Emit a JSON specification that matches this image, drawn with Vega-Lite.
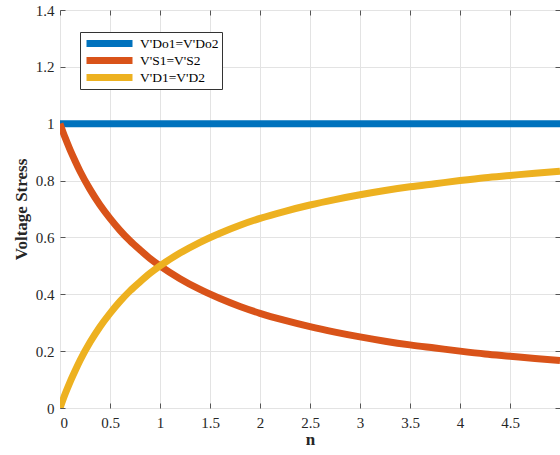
{
  "$schema": "https://vega.github.io/schema/vega-lite/v6.json",
  "width": 500,
  "height": 398,
  "autosize": {"type": "none"},
  "padding": {"left": 60, "top": 10, "right": 0, "bottom": 47},
  "background": "white",
  "config": {
    "view": {"stroke": "#7a7a7a", "strokeWidth": 1},
    "font": "Liberation Serif",
    "axis": {
      "labelFont": "Liberation Serif",
      "labelFontSize": 15,
      "labelColor": "#262626",
      "titleFont": "Liberation Serif",
      "titleFontSize": 17,
      "titleFontWeight": "bold",
      "titleColor": "#262626",
      "domain": false,
      "gridColor": "#e3e3e3",
      "gridWidth": 1,
      "tickColor": "#555555",
      "tickSize": -5
    }
  },
  "data": {
    "values": [
      {"n": 0, "v": 1, "s": "V'Do1=V'Do2"},
      {"n": 5, "v": 1, "s": "V'Do1=V'Do2"},
      {"n": 0, "v": 1, "s": "V'S1=V'S2"},
      {"n": 0.05, "v": 0.952, "s": "V'S1=V'S2"},
      {"n": 0.1, "v": 0.909, "s": "V'S1=V'S2"},
      {"n": 0.15, "v": 0.870, "s": "V'S1=V'S2"},
      {"n": 0.2, "v": 0.833, "s": "V'S1=V'S2"},
      {"n": 0.3, "v": 0.769, "s": "V'S1=V'S2"},
      {"n": 0.4, "v": 0.714, "s": "V'S1=V'S2"},
      {"n": 0.5, "v": 0.667, "s": "V'S1=V'S2"},
      {"n": 0.6, "v": 0.625, "s": "V'S1=V'S2"},
      {"n": 0.7, "v": 0.588, "s": "V'S1=V'S2"},
      {"n": 0.8, "v": 0.556, "s": "V'S1=V'S2"},
      {"n": 0.9, "v": 0.526, "s": "V'S1=V'S2"},
      {"n": 1.0, "v": 0.5, "s": "V'S1=V'S2"},
      {"n": 1.2, "v": 0.455, "s": "V'S1=V'S2"},
      {"n": 1.4, "v": 0.417, "s": "V'S1=V'S2"},
      {"n": 1.6, "v": 0.385, "s": "V'S1=V'S2"},
      {"n": 1.8, "v": 0.357, "s": "V'S1=V'S2"},
      {"n": 2.0, "v": 0.333, "s": "V'S1=V'S2"},
      {"n": 2.25, "v": 0.308, "s": "V'S1=V'S2"},
      {"n": 2.5, "v": 0.286, "s": "V'S1=V'S2"},
      {"n": 2.75, "v": 0.267, "s": "V'S1=V'S2"},
      {"n": 3.0, "v": 0.25, "s": "V'S1=V'S2"},
      {"n": 3.25, "v": 0.235, "s": "V'S1=V'S2"},
      {"n": 3.5, "v": 0.222, "s": "V'S1=V'S2"},
      {"n": 3.75, "v": 0.211, "s": "V'S1=V'S2"},
      {"n": 4.0, "v": 0.2, "s": "V'S1=V'S2"},
      {"n": 4.25, "v": 0.190, "s": "V'S1=V'S2"},
      {"n": 4.5, "v": 0.182, "s": "V'S1=V'S2"},
      {"n": 4.75, "v": 0.174, "s": "V'S1=V'S2"},
      {"n": 5.0, "v": 0.167, "s": "V'S1=V'S2"},
      {"n": 0, "v": 0, "s": "V'D1=V'D2"},
      {"n": 0.05, "v": 0.048, "s": "V'D1=V'D2"},
      {"n": 0.1, "v": 0.091, "s": "V'D1=V'D2"},
      {"n": 0.15, "v": 0.130, "s": "V'D1=V'D2"},
      {"n": 0.2, "v": 0.167, "s": "V'D1=V'D2"},
      {"n": 0.3, "v": 0.231, "s": "V'D1=V'D2"},
      {"n": 0.4, "v": 0.286, "s": "V'D1=V'D2"},
      {"n": 0.5, "v": 0.333, "s": "V'D1=V'D2"},
      {"n": 0.6, "v": 0.375, "s": "V'D1=V'D2"},
      {"n": 0.7, "v": 0.412, "s": "V'D1=V'D2"},
      {"n": 0.8, "v": 0.444, "s": "V'D1=V'D2"},
      {"n": 0.9, "v": 0.474, "s": "V'D1=V'D2"},
      {"n": 1.0, "v": 0.5, "s": "V'D1=V'D2"},
      {"n": 1.2, "v": 0.545, "s": "V'D1=V'D2"},
      {"n": 1.4, "v": 0.583, "s": "V'D1=V'D2"},
      {"n": 1.6, "v": 0.615, "s": "V'D1=V'D2"},
      {"n": 1.8, "v": 0.643, "s": "V'D1=V'D2"},
      {"n": 2.0, "v": 0.667, "s": "V'D1=V'D2"},
      {"n": 2.25, "v": 0.692, "s": "V'D1=V'D2"},
      {"n": 2.5, "v": 0.714, "s": "V'D1=V'D2"},
      {"n": 2.75, "v": 0.733, "s": "V'D1=V'D2"},
      {"n": 3.0, "v": 0.75, "s": "V'D1=V'D2"},
      {"n": 3.25, "v": 0.765, "s": "V'D1=V'D2"},
      {"n": 3.5, "v": 0.778, "s": "V'D1=V'D2"},
      {"n": 3.75, "v": 0.789, "s": "V'D1=V'D2"},
      {"n": 4.0, "v": 0.8, "s": "V'D1=V'D2"},
      {"n": 4.25, "v": 0.810, "s": "V'D1=V'D2"},
      {"n": 4.5, "v": 0.818, "s": "V'D1=V'D2"},
      {"n": 4.75, "v": 0.826, "s": "V'D1=V'D2"},
      {"n": 5.0, "v": 0.833, "s": "V'D1=V'D2"}
    ]
  },
  "layer": [
    {
      "mark": {"type": "line", "strokeWidth": 7, "interpolate": "monotone", "clip": true, "strokeCap": "butt"},
      "encoding": {
        "x": {
          "field": "n",
          "type": "quantitative",
          "scale": {"domain": [0, 5], "nice": false},
          "axis": {
            "title": "n",
            "values": [0, 0.5, 1, 1.5, 2, 2.5, 3, 3.5, 4, 4.5],
            "format": "~g",
            "labelPadding": 12,
            "titlePadding": 1
          }
        },
        "y": {
          "field": "v",
          "type": "quantitative",
          "scale": {"domain": [0, 1.4], "nice": false},
          "axis": {
            "title": "Voltage Stress",
            "values": [0, 0.2, 0.4, 0.6, 0.8, 1, 1.2, 1.4],
            "format": "~g",
            "labelPadding": 11,
            "titlePadding": 5
          }
        },
        "color": {
          "field": "s",
          "type": "nominal",
          "sort": ["V'Do1=V'Do2", "V'S1=V'S2", "V'D1=V'D2"],
          "scale": {"domain": ["V'Do1=V'Do2", "V'S1=V'S2", "V'D1=V'D2"], "range": ["#0072BD", "#D95319", "#EDB120"]},
          "legend": {
            "title": null,
            "orient": "none",
            "legendX": 20,
            "legendY": 22,
            "symbolType": "stroke",
            "symbolSize": 2116,
            "symbolStrokeWidth": 7,
            "clipHeight": 17,
            "labelFont": "Liberation Serif",
            "labelFontSize": 13.5,
            "labelColor": "#000000",
            "labelOffset": 4,
            "rowPadding": 0,
            "padding": 3,
            "fillColor": "white",
            "strokeColor": "#333333"
          }
        }
      }
    },
    {
      "mark": {"type": "line", "opacity": 0},
      "encoding": {
        "x": {
          "field": "n",
          "type": "quantitative",
          "axis": {"orient": "top", "title": null, "labels": false, "grid": false, "values": [0, 0.5, 1, 1.5, 2, 2.5, 3, 3.5, 4, 4.5]}
        },
        "y": {
          "field": "v",
          "type": "quantitative",
          "axis": {"orient": "right", "title": null, "labels": false, "grid": false, "values": [0, 0.2, 0.4, 0.6, 0.8, 1, 1.2, 1.4]}
        },
        "detail": {"field": "s"}
      }
    }
  ],
  "resolve": {"axis": {"x": "independent", "y": "independent"}}
}
